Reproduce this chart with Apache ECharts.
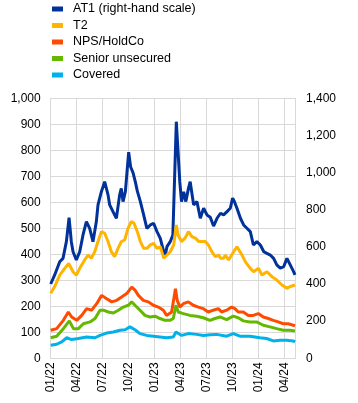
<!DOCTYPE html>
<html><head><meta charset="utf-8">
<script src="https://cdn.jsdelivr.net/npm/echarts@6/dist/echarts.min.js"></script>
<style>html,body{margin:0;padding:0;background:#fff}#c{width:358px;height:403px}</style>
</head><body><div id="c"></div>
<script>
// time in months since Jan 2022
const at1Months = [0,0.46,1.04,1.42,1.81,2.12,2.38,2.58,2.96,3.35,3.73,4.12,4.5,4.88,5.27,5.46,5.85,6.23,6.42,6.62,6.81,7.19,7.58,7.96,8.15,8.35,8.62,9.0,9.23,9.5,9.77,10.0,10.35,10.73,11.1,11.5,11.88,12.27,12.65,13.04,13.23,13.42,13.8,14.1,14.3,14.5,14.7,14.9,15.1,15.35,15.6,15.9,16.1,16.5,16.88,17.27,17.65,18.04,18.42,18.8,19.2,19.6,19.96,20.35,20.73,21.0,21.2,21.5,21.9,22.27,22.65,23.04,23.4,23.8,24.2,24.6,24.96,25.35,25.73,26.1,26.5,26.9,27.27,27.65,28.04,28.2];
const at1Values = [400,449,520,538,628,757,628,574,530,574,664,736,700,628,736,826,897,951,942,880,826,790,754,880,915,844,897,1110,1030,1000,950,900,844,772,700,718,727,682,646,574,556,601,628,664,969,1274,1113,951,844,897,844,915,951,826,844,754,808,772,760,712,754,781,772,790,808,862,844,808,754,718,700,682,610,628,610,574,565,556,538,503,485,494,538,503,467,449];

const t2Months = [0,0.46,1.04,1.62,2.08,2.58,2.96,3.35,3.92,4.31,4.69,5.08,5.46,5.85,6.23,6.62,7.0,7.38,7.77,8.15,8.54,8.92,9.31,9.62,10.0,10.35,10.73,11.1,11.5,11.88,12.27,12.65,13.04,13.42,13.8,14.2,14.5,14.7,15.1,15.5,15.9,16.3,16.7,17.1,17.46,17.85,18.2,18.6,19.0,19.4,19.6,19.96,20.15,20.54,21.12,21.5,22.08,22.46,23.04,23.42,24.0,24.38,24.96,25.54,26.1,26.7,27.27,27.65,28.2];
const t2Values = [250,276,320,346,365,333,320,346,378,397,385,410,449,487,481,449,410,391,423,449,455,500,526,519,487,449,423,423,436,442,423,429,385,397,410,436,513,474,449,462,487,468,462,449,449,449,436,410,391,397,385,385,397,378,410,429,397,372,346,333,346,320,333,314,301,282,269,276,282];

const npsMonths = [0,0.69,1.46,2.04,2.42,3.0,3.58,4.15,4.73,5.31,5.88,6.46,7.04,7.62,8.19,8.77,9.35,9.73,10.12,10.69,11.27,11.85,12.42,13.0,13.38,13.96,14.4,14.6,14.92,15.31,15.88,16.46,17.04,17.62,18.19,18.77,19.35,19.73,20.31,20.88,21.27,21.65,22.23,22.81,23.38,23.96,24.54,25.12,25.69,26.27,26.85,27.42,28.0,28.2];
const npsValues = [108,114,146,178,159,146,165,191,185,210,242,229,217,223,236,249,274,262,242,223,217,204,197,185,165,178,268,223,197,210,217,204,197,191,178,185,191,178,185,197,191,178,178,165,165,172,159,153,146,140,133,133,127,125];

const seniorMonths = [0,0.69,1.46,2.15,2.62,3.19,3.77,4.54,5.12,5.69,6.08,6.65,7.23,7.81,8.38,8.96,9.35,9.73,10.31,10.88,11.46,12.04,12.62,13.19,13.77,14.15,14.46,14.73,15.31,16.08,16.85,17.62,18.38,18.96,19.54,20.31,21.08,21.65,22.23,23.0,23.77,24.54,25.31,26.08,26.85,27.62,28.2];
const seniorValues = [79,85,114,144,114,114,133,140,153,185,185,178,174,185,197,204,217,204,185,165,159,162,153,146,146,153,204,178,172,165,162,156,146,153,159,149,162,156,144,140,140,127,121,114,108,108,105];

const coveredMonths = [0,0.69,1.27,1.85,2.42,3.19,4.15,5.12,5.69,6.46,7.23,8.0,8.58,9.15,9.73,10.31,11.08,11.85,12.62,13.38,14.15,14.46,15.12,15.88,16.85,17.62,18.38,19.15,20.31,21.08,21.85,23.0,24.15,24.92,25.69,26.46,27.23,28.0,28.2];
const coveredValues = [50,54,63,79,72,76,82,79,88,97,101,108,110,121,110,95,88,85,82,79,82,101,88,95,92,88,91,92,85,95,85,85,79,76,67,69,69,67,63];

const seriesNames = ['AT1 (right-hand scale)','T2','NPS/HoldCo','Senior unsecured','Covered'];
const seriesColors = ['#003299','#FFB400','#FF4B00','#65B800','#00B1EA'];

function pairs(ts, vs){ return ts.map((t,i)=>[t, vs[i]]); }
const allData = [
  pairs(at1Months, at1Values),
  pairs(t2Months, t2Values),
  pairs(npsMonths, npsValues),
  pairs(seniorMonths, seniorValues),
  pairs(coveredMonths, coveredValues)
];

const chart = echarts.init(document.getElementById('c'), null, {renderer:'canvas'});
const font = 'Liberation Sans, Arial, sans-serif';
chart.setOption({
  animation:false,
  textStyle:{fontFamily:font},
  legend:{
    orient:'vertical', left:52, top:2, padding:0, itemGap:2.5,
    icon:'rect', itemWidth:11, itemHeight:5,
    textStyle:{fontSize:12.5, color:'#000', fontFamily:font, lineHeight:14, padding:[0,0,0,5]},
    data: seriesNames
  },
  grid:{left:50.7, right:63, top:98.3, bottom:44.7, containLabel:false},
  xAxis:{
    type:'value', min:0, max:28.2, interval:3,
    axisLine:{show:true, lineStyle:{color:'#d9d9d9'}},
    axisTick:{show:false},
    splitLine:{show:true, lineStyle:{color:'#d9d9d9', width:1}},
    axisLabel:{
      rotate:90, fontSize:12, color:'#000', fontFamily:font, margin:4,
      formatter:function(v){
        const m = Math.round(v)%12 + 1;
        const y = 22 + Math.floor(Math.round(v)/12);
        return (m<10?'0':'')+m+'/'+y;
      }
    }
  },
  yAxis:[
    {type:'value', min:0, max:1000, interval:100, position:'left',
     axisLine:{show:true, lineStyle:{color:'#d9d9d9'}}, axisTick:{show:false},
     splitLine:{show:true, lineStyle:{color:'#d9d9d9', width:1}},
     axisLabel:{fontSize:12, color:'#000', fontFamily:font, margin:10,
       formatter:function(v){return v.toLocaleString('en-US');}}},
    {type:'value', min:0, max:1400, interval:200, position:'right',
     axisLine:{show:true, lineStyle:{color:'#d9d9d9'}}, axisTick:{show:false},
     splitLine:{show:false},
     axisLabel:{fontSize:12, color:'#000', fontFamily:font, margin:11,
       formatter:function(v){return v.toLocaleString('en-US');}}}
  ],
  series: seriesNames.map((n,i)=>({
    name:n, type:'line', yAxisIndex: i===0?1:0,
    data: allData[i], showSymbol:false, symbol:'none',
    lineStyle:{width:3, color:seriesColors[i]}, itemStyle:{color:seriesColors[i]}
  }))
});
</script></body></html>
